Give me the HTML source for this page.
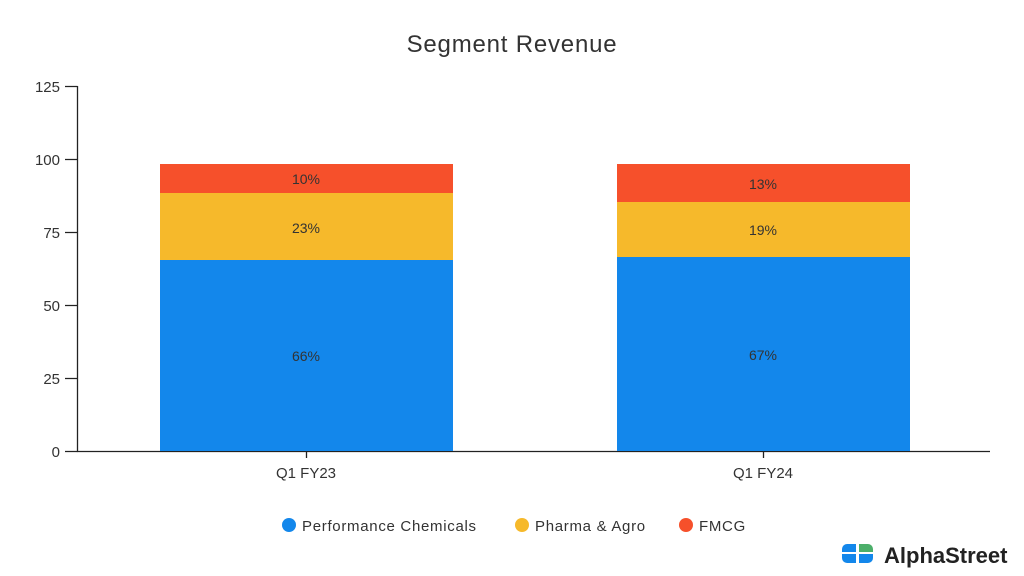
<!DOCTYPE html>
<html><head><meta charset="utf-8"><style>body{margin:0;background:#fff}svg{display:block}</style></head>
<body>
<svg width="1024" height="576" viewBox="0 0 1024 576" font-family="'Liberation Sans', sans-serif">
<rect width="1024" height="576" fill="#fff"/>
<text x="512" y="52" text-anchor="middle" font-size="24" letter-spacing="0.8" fill="#333">Segment Revenue</text>
<g stroke="#222" stroke-width="1.3" fill="none">
<path d="M77.5 86 V451.5 H990"/>
<path d="M65 86.5H77.5M65 159.5H77.5M65 232.5H77.5M65 305.5H77.5M65 378.5H77.5M65 451.5H77.5"/>
<path d="M306.5 451.5V458M763.5 451.5V458"/>
</g>
<g font-size="15" fill="#333" text-anchor="end">
<text x="60" y="92">125</text><text x="60" y="165">100</text><text x="60" y="238">75</text>
<text x="60" y="311">50</text><text x="60" y="384">25</text><text x="60" y="457">0</text>
</g>
<rect x="160" y="260" width="293" height="191" fill="#1387eb"/>
<rect x="160" y="193" width="293" height="67" fill="#f6b92b"/>
<rect x="160" y="164" width="293" height="29" fill="#f6502b"/>
<rect x="617" y="257" width="293" height="194" fill="#1387eb"/>
<rect x="617" y="202" width="293" height="55" fill="#f6b92b"/>
<rect x="617" y="164" width="293" height="38" fill="#f6502b"/>
<g font-size="14" fill="#333" text-anchor="middle">
<text x="306" y="184">10%</text><text x="306" y="233">23%</text><text x="306" y="361">66%</text>
<text x="763" y="189">13%</text><text x="763" y="235">19%</text><text x="763" y="360">67%</text>
<text x="306" y="478" font-size="15">Q1 FY23</text><text x="763" y="478" font-size="15">Q1 FY24</text>
</g>
<g font-size="15" fill="#333" letter-spacing="0.7">
<circle cx="289" cy="525" r="7" fill="#1387eb"/><text x="302" y="531">Performance Chemicals</text>
<circle cx="522" cy="525" r="7" fill="#f6b92b"/><text x="535" y="531">Pharma &amp; Agro</text>
<circle cx="686" cy="525" r="7" fill="#f6502b"/><text x="699" y="531">FMCG</text>
</g>
<g>
<path d="M842 549a5 5 0 0 1 5-5h9v8h-14z" fill="#1387eb"/>
<path d="M842 554h14v9h-9a5 5 0 0 1-5-5z" fill="#1387eb"/>
<path d="M859 544h9a5 5 0 0 1 5 5v3h-14z" fill="#4caf6a"/>
<path d="M859 554h14v4a5 5 0 0 1-5 5h-9z" fill="#1387eb"/>
<text x="884" y="563" font-size="22" font-weight="bold" fill="#222">AlphaStreet</text>
</g>
</svg>
</body></html>
